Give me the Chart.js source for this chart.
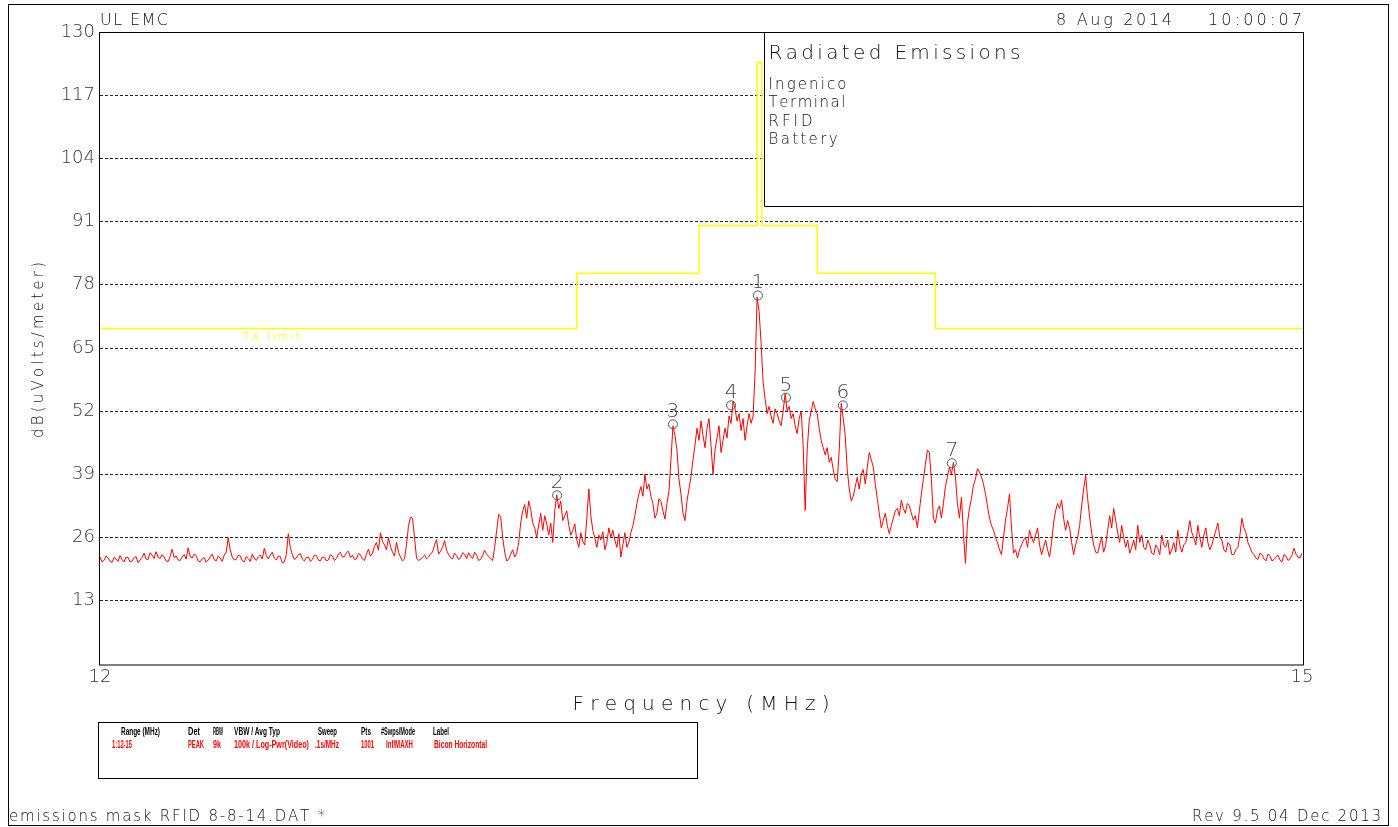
<!DOCTYPE html>
<html>
<head>
<meta charset="utf-8">
<script src="https://cdn.jsdelivr.net/npm/chart.js@4.4.1/dist/chart.umd.min.js"></script>
<style>
html,body{margin:0;padding:0;background:#fff;}
canvas{display:block;}
</style>
</head>
<body>
<canvas id="c" width="1398" height="827" style="width:1398px;height:827px"></canvas>
<script>
// ---------------- DATA ----------------
const traceStartMHz = 12;
const traceStepMHz = 0.005;
const traceLevels = [
22.0,21.0, 21.3,22.2, 21.8,21.2, 20.9,21.9, 21.6,21.1,
22.3,21.5, 21.0,22.0, 21.9,21.0, 21.2,21.8, 22.1,20.8,
21.4,21.9, 22.8,21.6, 21.5,22.9, 22.4,21.7, 23.1,22.0,
21.7,22.5, 22.0,21.2, 21.1,22.1, 23.6,21.9, 22.2,21.4,
21.3,22.0, 22.5,21.6, 23.9,22.1, 21.8,22.6, 22.3,21.2,
21.0,21.6, 21.9,20.9, 21.4,22.0, 22.6,21.5, 21.2,22.2,
21.8,21.1, 22.4,23.0, 26.0,23.5, 22.0,21.4, 21.5,22.4,
22.2,21.3, 21.0,22.1, 21.7,21.1, 22.6,21.8, 21.3,22.0,
22.4,21.6, 23.8,22.3, 21.6,22.4, 23.0,21.8, 21.4,22.2,
22.1,20.8, 21.0,22.5, 26.8,24.0, 22.5,21.5, 21.8,22.5,
22.7,21.6, 21.2,21.9, 22.0,21.1, 21.5,22.4, 22.3,21.4,
21.2,22.0, 21.9,21.2, 21.4,22.5, 22.2,21.3, 21.7,22.6,
23.0,22.0, 22.1,22.9, 23.2,21.9, 22.4,21.5, 21.6,22.7,
22.5,21.6, 21.3,22.6, 23.6,22.2, 22.8,24.2, 25.0,23.4,
27.0,25.2, 24.5,23.5, 26.0,24.2, 23.0,22.2, 25.0,23.0,
22.0,21.2, 21.6,24.5, 28.5,30.2, 30.0,26.0, 21.8,21.3,
21.5,22.0, 22.4,21.6, 22.0,22.7, 23.0,24.5, 25.6,22.6,
23.2,24.0, 25.4,23.4, 22.5,21.9, 21.6,22.8, 22.3,21.5,
21.8,22.9, 22.6,21.7, 22.9,22.2, 21.7,23.0, 22.4,21.3,
21.5,22.3, 23.4,22.6, 22.1,21.6, 21.3,24.0, 27.5,30.8,
30.4,26.0, 23.0,21.2, 21.5,22.6, 23.5,22.0, 22.8,25.0,
29.0,31.5, 32.8,30.0, 33.5,31.8, 29.0,28.0, 26.0,28.6,
31.0,27.5, 30.5,28.8, 26.5,29.0, 25.0,31.5, 34.8,32.0,
33.5,29.5, 30.5,31.5, 28.5,26.5, 27.5,28.8, 25.5,24.0,
27.0,25.2, 24.5,30.0, 36.0,30.5, 27.5,26.0, 24.0,26.5,
25.5,27.2, 23.5,25.0, 28.0,26.0, 27.5,25.5, 24.0,26.8,
22.0,24.5, 27.0,24.0, 25.0,27.0, 28.5,30.5, 33.0,35.0,
36.5,34.5, 39.0,36.0, 37.0,34.5, 33.0,30.0, 31.0,34.0,
33.5,31.5, 29.8,33.0, 35.5,42.0, 49.0,47.0, 44.0,38.0,
35.0,31.0, 29.5,33.5, 36.0,38.5, 42.0,45.0, 48.5,46.0,
50.0,47.0, 44.5,48.5, 50.5,45.0, 39.0,44.0, 46.5,49.0,
43.5,46.0, 48.5,46.5, 51.0,49.5, 54.0,52.5, 50.0,51.5,
48.0,50.5, 46.0,49.0, 51.5,49.5, 51.0,60.0, 75.5,72.5,
66.0,58.0, 54.5,51.5, 53.0,51.0, 49.5,52.5, 51.5,50.0,
49.0,52.0, 55.6,52.0, 53.0,50.5, 51.5,49.0, 47.4,50.5,
52.0,45.0, 31.6,44.0, 50.0,52.0, 54.0,52.5, 51.5,48.5,
46.0,44.5, 43.0,44.5, 41.5,42.5, 40.0,38.0, 37.5,44.0,
53.6,50.5, 47.0,40.0, 36.0,33.5, 34.5,36.5, 38.4,36.0,
39.0,40.0, 37.0,40.5, 43.5,42.0, 40.5,37.0, 34.0,31.0,
28.0,29.5, 31.0,28.5, 26.8,28.5, 30.0,31.5, 32.0,30.5,
33.7,32.0, 31.0,33.0, 32.6,31.0, 29.6,30.5, 28.0,31.5,
35.0,38.0, 41.0,44.0, 43.5,38.0, 30.0,29.0, 31.6,32.5,
30.0,33.0, 36.5,38.5, 40.5,39.0, 41.5,38.5, 33.0,30.0,
34.3,27.0, 20.7,29.0, 32.0,34.0, 36.8,38.0, 40.2,39.5,
38.5,37.0, 35.0,32.5, 30.0,28.5, 27.5,26.0, 25.0,23.5,
22.5,26.0, 29.6,32.0, 35.0,28.0, 22.8,23.5, 21.8,23.5,
24.5,25.5, 26.0,24.0, 27.5,26.0, 25.0,26.5, 28.0,24.5,
22.5,24.0, 25.5,23.5, 22.0,25.0, 29.0,31.5, 33.0,32.0,
33.7,30.0, 27.5,29.5, 28.0,25.0, 22.5,24.5, 26.0,28.5,
32.5,36.0, 38.8,34.0, 30.2,27.0, 24.5,23.0, 22.8,24.5,
26.0,23.0, 24.5,27.5, 30.5,28.0, 32.0,29.5, 27.0,25.0,
28.5,26.0, 24.0,25.5, 22.8,24.0, 25.5,23.5, 28.5,25.0,
26.5,24.0, 23.5,25.5, 24.5,22.8, 22.5,24.5, 23.8,22.5,
26.5,24.5, 24.0,25.5, 22.5,23.5, 25.0,23.0, 27.5,24.5,
23.0,24.5, 25.0,27.0, 29.5,27.0, 26.0,24.5, 28.5,26.0,
24.0,26.5, 28.0,25.0, 23.5,24.5, 26.0,27.5, 29.0,26.0,
25.5,23.5, 23.0,25.0, 24.5,22.5, 22.5,23.5, 24.0,26.5,
30.0,28.0, 27.0,25.0, 24.0,23.0, 22.5,21.8, 21.5,22.8,
22.5,21.6, 21.2,22.6, 22.3,21.2, 21.5,22.0, 22.4,21.4,
21.0,22.5, 22.2,21.3, 21.6,22.4, 23.8,22.6, 22.0,21.8,
22.8
];

// TX limit mask (each level holds from its frequency up to the next one)
const limitFreq  = [12, 13.19, 13.495, 13.64, 13.652, 13.79, 14.085, 15];
const limitLevel = [69, 80.4, 90.2, 123.8, 90.2, 80.4, 69, 69];

// Markers
const markerFreq  = [13.642, 13.141, 13.430, 13.575, 13.712, 13.854, 14.126];
const markerLevel = [75.8, 34.7, 49.3, 53.2, 54.8, 53.2, 41.3];
const markerLabel = ['1','2','3','4','5','6','7'];

// Ticks
const yTickValues = [0,13,26,39,52,65,78,91,104,117,130];
const xTickValues = [12, 15];

// Texts
const headerLeft = 'UL EMC';
const headerDate = '8 Aug 2014';
const headerTime = '10:00:07';
const yTitle = 'dB(uVolts/meter)';
const xTitle = 'Frequency (MHz)';
const boxTitle = 'Radiated Emissions';
const boxLines = ['Ingenico','Terminal','RFID','Battery'];
const limitName = 'TX limit';
const footerLeft = 'emissions mask RFID 8-8-14.DAT *';
const footerRight = 'Rev 9.5 04 Dec 2013';
const tableHead = ['Range (MHz)','Det','RBW','VBW / Avg Typ','Sweep','Pts','#Swps/Mode','Label'];
const tableRow  = ['1:12-15','PEAK','9k','100k / Log-Pwr(Video)','.1s/MHz','1001','Inf/MAXH','Bicon Horizontal'];

// ---------------- BUILD ----------------
const tracePts = traceLevels.map((v,i)=>({x: +(traceStartMHz + i*traceStepMHz).toFixed(4), y: v}));
const limitPts = limitFreq.map((f,i)=>({x:f, y:limitLevel[i]}));
const markerPts = markerFreq.map((f,i)=>({x:f, y:markerLevel[i]}));

const FONT = '"DejaVu Sans", "Liberation Sans", sans-serif';

function spaced(ctx, str, x, y, width, align){
  const ws = [...str].map(ch=>ctx.measureText(ch).width);
  const W = ws.reduce((a,b)=>a+b,0);
  const n = str.length;
  const s = n>1 ? (width - W)/(n-1) : 0;
  let cx = align==='right' ? x - width : (align==='center' ? x - width/2 : x);
  ctx.textAlign = 'left';
  [...str].forEach((ch,i)=>{ ctx.fillText(ch, cx, y); cx += ws[i] + s; });
}

const decor = {
  id:'decor',
  beforeDatasetsDraw(chart){
    const {ctx, chartArea:a, scales:{x,y}} = chart;
    const bx = x.getPixelForValue(13.656), by = y.getPixelForValue(94.2);
    ctx.save();
    ctx.fillStyle = '#fff';
    ctx.fillRect(bx, a.top, a.right - bx, by - a.top);
    ctx.strokeStyle = '#000'; ctx.lineWidth = 1;
    ctx.beginPath();
    ctx.moveTo(Math.round(bx)+0.5, a.top); ctx.lineTo(Math.round(bx)+0.5, Math.round(by)+0.5);
    ctx.lineTo(a.right+2, Math.round(by)+0.5);
    ctx.stroke();
    ctx.restore();
  },
  afterDatasetsDraw(chart){
    const {ctx, chartArea:a, scales:{x,y}} = chart;
    ctx.save();
    ctx.strokeStyle = '#000'; ctx.lineWidth = 1;
    ctx.strokeRect(a.left - 0.5, a.top + 0.5, a.right - a.left + 2, a.bottom - a.top + 0.5);
    ctx.strokeRect(8.5, 4.5, 1380, 821);

    ctx.textBaseline = 'alphabetic';
    const meta = chart.getDatasetMeta(2);
    ctx.fillStyle = '#444';
    ctx.font = '200 20px ' + FONT;
    ctx.textAlign = 'center';
    meta.data.forEach((pt,i)=>{ ctx.fillText(markerLabel[i], pt.x, pt.y - 7); });

    ctx.fillStyle = '#111';
    ctx.font = '200 16px ' + FONT;
    spaced(ctx, headerLeft, 100, 25, 68, 'left');
    spaced(ctx, headerDate, 1056, 25, 116, 'left');
    spaced(ctx, headerTime, 1302, 25, 94, 'right');

    const bx = x.getPixelForValue(13.656);
    ctx.font = '200 20px ' + FONT;
    spaced(ctx, boxTitle, bx + 5, 59, 252, 'left');
    ctx.font = '200 15px ' + FONT;
    const bw = [78, 77, 44, 69];
    boxLines.forEach((t,i)=> spaced(ctx, t, bx + 5, 89 + i*18.3, bw[i], 'left'));

    ctx.fillStyle = '#ffff00';
    ctx.font = '200 11px ' + FONT;
    spaced(ctx, limitName, 243, 340, 57, 'left');

    ctx.fillStyle = '#111';
    ctx.font = '200 20px ' + FONT;
    spaced(ctx, xTitle, (a.left + a.right)/2, 710, 257, 'center');
    ctx.save();
    ctx.translate(43, 350);
    ctx.rotate(-Math.PI/2);
    ctx.font = '200 15px ' + FONT;
    spaced(ctx, yTitle, 0, 0, 176, 'center');
    ctx.restore();

    ctx.font = '200 15px ' + FONT;
    spaced(ctx, footerLeft, 9, 821, 316, 'left');
    spaced(ctx, footerRight, 1381, 821, 189, 'right');

    ctx.strokeRect(98.5, 722.5, 599, 56);
    const headX = [121,188,213,234,318,361,381,433];
    const headW = [39,12,10,46,19,10,34,16];
    const rowX  = [112,188,213,234,315,361,386,434];
    const rowW  = [20,16,8,75,24,13,27,53];
    ctx.font = 'bold 11px "Liberation Sans Narrow", "Liberation Sans", sans-serif';
    ctx.textAlign = 'left';
    ctx.fillStyle = '#000';
    tableHead.forEach((t,i)=> ctx.fillText(t, headX[i], 735, headW[i]));
    ctx.fillStyle = '#ff0000';
    tableRow.forEach((t,i)=> ctx.fillText(t, rowX[i], 748, rowW[i]));
    ctx.restore();
  }
};

const tickFont = {family: FONT, size: 18, weight: 200};

new Chart(document.getElementById('c').getContext('2d'), {
  type: 'scatter',
  data: {
    datasets: [
      {label: limitName, data: limitPts, showLine: true, stepped: 'before', borderColor: '#ffff00',
       borderWidth: 1.5, pointRadius: 0, order: 2},
      {label: 'Trace', data: tracePts, showLine: true, borderColor: '#ff0000', borderWidth: 1,
       pointRadius: 0, tension: 0, order: 1},
      {label: 'Markers', data: markerPts, showLine: false, pointStyle: 'circle', pointRadius: 4.5,
       borderColor: '#555', backgroundColor: 'rgba(0,0,0,0)', borderWidth: 1, order: 0}
    ]
  },
  options: {
    responsive: false, animation: false, devicePixelRatio: 1,
    layout: {padding: {top: 32, right: 96, left: 0, bottom: 0}},
    plugins: {legend: {display: false}, tooltip: {enabled: false}},
    scales: {
      x: {
        type: 'linear', min: 12, max: 15,
        afterBuildTicks: s => { s.ticks = xTickValues.map(v => ({value: v})); },
        afterFit: s => { s.height = 163; },
        grid: {display: false, drawTicks: false},
        border: {display: false},
        ticks: {font: tickFont, color: '#333', padding: 3, maxRotation: 0, autoSkip: false,
                callback: v => String(v)}
      },
      y: {
        min: 0, max: 130,
        afterBuildTicks: s => { s.ticks = yTickValues.map(v => ({value: v})); },
        afterFit: s => { s.width = 100; },
        grid: {drawTicks: false, lineWidth: 1,
               color: c => (c.tick && (c.tick.value === 0 || c.tick.value === 130)) ? 'rgba(0,0,0,0)' : '#222'},
        border: {display: false, dash: [3, 2]},
        ticks: {font: tickFont, color: '#333', padding: 5, autoSkip: false,
                callback: v => v === 0 ? '' : String(v)}
      }
    }
  },
  plugins: [decor]
});
</script>
</body>
</html>
